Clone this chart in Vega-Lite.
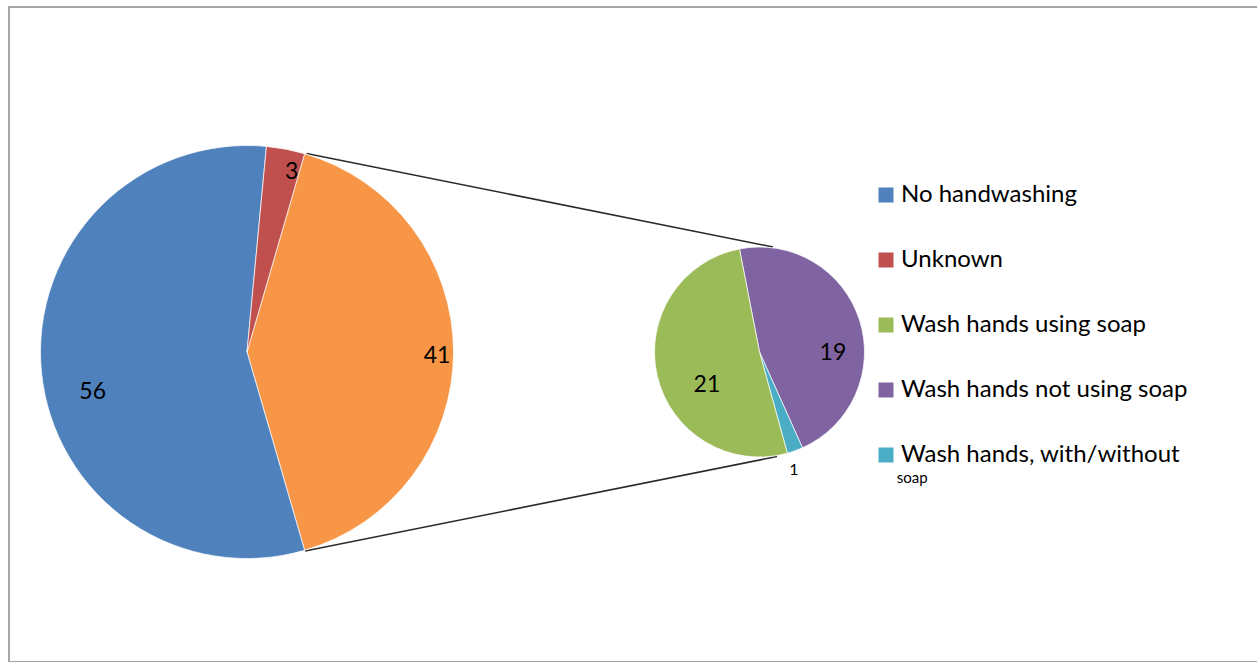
{
  "$schema": "https://vega.github.io/schema/vega-lite/v6.json",
  "autosize": {"type": "fit", "contains": "padding"},
  "width": 1257,
  "height": 662,
  "padding": {"left": 9, "top": 7, "right": -2, "bottom": 0},
  "background": "#ffffff",
  "config": {
    "view": {"stroke": "#a6a6a6", "strokeWidth": 2},
    "font": "Lato",
    "text": {"font": "Lato", "fontSize": 23, "color": "#000000", "align": "center", "baseline": "middle"}
  },
  "datasets": {
    "main": [
      {"cat": "Other", "value": 41, "ord": 1},
      {"cat": "No handwashing", "value": 56, "ord": 2},
      {"cat": "Unknown", "value": 3, "ord": 3}
    ],
    "sub": [
      {"cat": "Wash hands not using soap", "value": 19, "ord": 1},
      {"cat": "Wash hands, with/without soap", "value": 1, "ord": 2},
      {"cat": "Wash hands using soap", "value": 21, "ord": 3}
    ],
    "links": [
      {"x": 23.80, "y": 22.366, "x2": 61.12, "y2": 36.641},
      {"x": 23.68, "y": 83.053, "x2": 61.44, "y2": 68.626}
    ],
    "notes": [
      {"note": "soap", "x": 71.02, "y": 72.72}
    ]
  },
  "layer": [
    {
      "data": {"name": "links"},
      "mark": {"type": "rule", "color": "#2a2a2a", "strokeWidth": 1.6},
      "encoding": {
        "x": {"field": "x", "type": "quantitative", "scale": {"domain": [0, 100], "nice": false, "zero": false}, "axis": null},
        "y": {"field": "y", "type": "quantitative", "scale": {"domain": [0, 100], "nice": false, "zero": false, "reverse": true}, "axis": null},
        "x2": {"field": "x2"},
        "y2": {"field": "y2"}
      }
    },
    {
      "data": {"name": "main"},
      "encoding": {
        "x": {"datum": 19.04, "type": "quantitative", "scale": {"domain": [0, 100], "nice": false, "zero": false}, "axis": null},
        "y": {"datum": 52.672, "type": "quantitative", "scale": {"domain": [0, 100], "nice": false, "zero": false, "reverse": true}, "axis": null},
        "theta": {"field": "value", "type": "quantitative", "stack": true, "scale": {"range": [0.28274, 6.56593]}},
        "order": {"field": "ord", "type": "quantitative"}
      },
      "layer": [
        {
          "mark": {"type": "arc", "outerRadius": 206.5, "stroke": "#ffffff", "strokeWidth": 0.7},
          "encoding": {
            "color": {
              "field": "cat",
              "type": "nominal",
              "condition": {"test": "datum.cat === 'Other'", "value": "#F79646"},
              "scale": {
                "domain": ["No handwashing", "Unknown", "Wash hands using soap", "Wash hands not using soap", "Wash hands, with/without soap"],
                "range": ["#4F81BD", "#C0504D", "#9BBB59", "#8064A2", "#4BACC6"]
              },
              "legend": {
                "title": null,
                "orient": "none",
                "legendX": 865,
                "legendY": 176,
                "direction": "vertical",
                "symbolType": "square",
                "symbolSize": 225,
                "symbolStrokeWidth": 0,
                "symbolOpacity": 1,
                "labelFont": "Lato",
                "labelFontSize": 24,
                "labelColor": "#000000",
                "labelOffset": 3,
                "rowPadding": 41,
                "labelLimit": 400,
                "labelExpr": "datum.label === 'Wash hands, with/without soap' ? 'Wash hands, with/without' : datum.label"
              }
            }
          }
        },
        {
          "mark": {"type": "text", "radius": 190, "dy": 4},
          "encoding": {"text": {"field": "value", "type": "quantitative", "condition": {"test": "datum.cat !== 'Other'", "value": ""}}}
        },
        {
          "mark": {"type": "text", "radius": 185, "dx": 10, "dy": 2},
          "encoding": {"text": {"field": "value", "type": "quantitative", "condition": {"test": "datum.cat !== 'Unknown'", "value": ""}}}
        },
        {
          "mark": {"type": "text", "radius": 155, "dy": 25},
          "encoding": {"text": {"field": "value", "type": "quantitative", "condition": {"test": "datum.cat !== 'No handwashing'", "value": ""}}}
        }
      ]
    },
    {
      "data": {"name": "sub"},
      "encoding": {
        "x": {"datum": 60.04, "type": "quantitative", "scale": {"domain": [0, 100], "nice": false, "zero": false}, "axis": null},
        "y": {"datum": 52.672, "type": "quantitative", "scale": {"domain": [0, 100], "nice": false, "zero": false, "reverse": true}, "axis": null},
        "theta": {"field": "value", "type": "quantitative", "stack": true, "scale": {"range": [-0.19199, 6.0912]}},
        "order": {"field": "ord", "type": "quantitative"}
      },
      "layer": [
        {
          "mark": {"type": "arc", "outerRadius": 105, "stroke": "#ffffff", "strokeWidth": 0.7},
          "encoding": {
            "color": {
              "field": "cat",
              "type": "nominal",
              "scale": {
                "domain": ["No handwashing", "Unknown", "Wash hands using soap", "Wash hands not using soap", "Wash hands, with/without soap"],
                "range": ["#4F81BD", "#C0504D", "#9BBB59", "#8064A2", "#4BACC6"]
              }
            }
          }
        },
        {
          "mark": {"type": "text", "radius": 77, "dy": 24},
          "encoding": {"text": {"field": "value", "type": "quantitative", "condition": {"test": "datum.cat !== 'Wash hands not using soap'", "value": ""}}}
        },
        {
          "mark": {"type": "text", "radius": 55, "dx": 1, "dy": 20},
          "encoding": {"text": {"field": "value", "type": "quantitative", "condition": {"test": "datum.cat !== 'Wash hands using soap'", "value": ""}}}
        },
        {
          "mark": {"type": "text", "radius": 122, "dx": -7, "dy": 3, "fontSize": 16},
          "encoding": {"text": {"field": "value", "type": "quantitative", "condition": {"test": "datum.cat !== 'Wash hands, with/without soap'", "value": ""}}}
        }
      ]
    },
    {
      "data": {"name": "notes"},
      "mark": {"type": "text", "align": "left", "baseline": "alphabetic", "fontSize": 15},
      "encoding": {
        "x": {"field": "x", "type": "quantitative", "scale": {"domain": [0, 100], "nice": false, "zero": false}, "axis": null},
        "y": {"field": "y", "type": "quantitative", "scale": {"domain": [0, 100], "nice": false, "zero": false, "reverse": true}, "axis": null},
        "text": {"field": "note"}
      }
    }
  ],
  "resolve": {"scale": {"theta": "independent"}}
}
